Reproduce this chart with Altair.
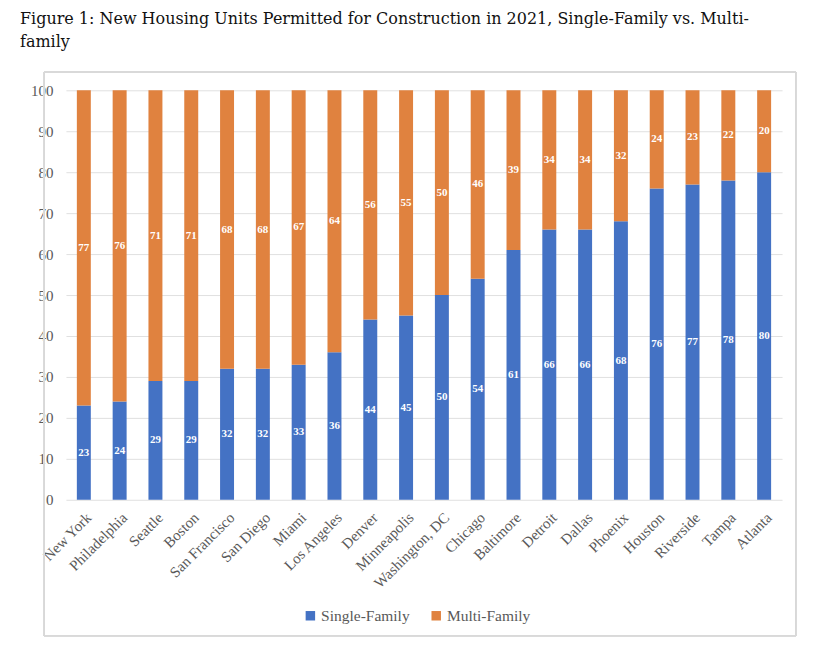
import altair as alt
import pandas as pd

cities = ["New York", "Philadelphia", "Seattle", "Boston", "San Francisco", "San Diego",
          "Miami", "Los Angeles", "Denver", "Minneapolis", "Washington, DC", "Chicago",
          "Baltimore", "Detroit", "Dallas", "Phoenix", "Houston", "Riverside", "Tampa", "Atlanta"]
single = [23, 24, 29, 29, 32, 32, 33, 36, 44, 45, 50, 54, 61, 66, 66, 68, 76, 77, 78, 80]
multi = [77, 76, 71, 71, 68, 68, 67, 64, 56, 55, 50, 46, 39, 34, 34, 32, 24, 23, 22, 20]
series = ["Single-Family", "Multi-Family"]
colors = ["#4472C4", "#E0823F"]

rows = []
for c, s, m in zip(cities, single, multi):
    rows.append({"city": c, "type": series[0], "value": s, "ord": 0, "mid": s / 2})
    rows.append({"city": c, "type": series[1], "value": m, "ord": 1, "mid": s + m / 2})
df = pd.DataFrame(rows)

serif = "Liberation Serif"

x_enc = alt.X("city:N", sort=cities, title=None,
              scale=alt.Scale(paddingInner=0.61),
              axis=alt.Axis(labelAngle=-45, labelFont=serif, labelFontSize=15,
                            labelColor="#595959", ticks=False, domain=False,
                            labelPadding=10, grid=False))

bars = alt.Chart(df).mark_bar().encode(
    x=x_enc,
    y=alt.Y("value:Q", stack="zero", title=None,
            scale=alt.Scale(domain=[0, 100], nice=False),
            axis=alt.Axis(values=list(range(0, 101, 10)), labelFont=serif, labelFontSize=15,
                          labelColor="#595959", ticks=False, domain=False, labelPadding=13,
                          gridColor="#E0E0E0", gridWidth=1)),
    color=alt.Color("type:N", sort=series,
                    scale=alt.Scale(domain=series, range=colors),
                    legend=alt.Legend(title=None, orient="none", direction="horizontal",
                                      legendX=237, legendY=518, symbolType="square",
                                      symbolSize=90, symbolStrokeWidth=0,
                                      labelFont=serif, labelFontSize=15.5,
                                      labelColor="#595959", columnPadding=18,
                                      labelOffset=3)),
    order=alt.Order("ord:Q"),
)

labels = alt.Chart(df).mark_text(font=serif, fontSize=11, fontWeight="bold",
                                 color="white", baseline="middle").encode(
    x=alt.X("city:N", sort=cities),
    y=alt.Y("mid:Q"),
    text=alt.Text("value:Q"),
)

frame = alt.Chart(df).mark_rect(fill=None, stroke="#D9D9D9", strokeWidth=1).encode(
    x=alt.value(-22), x2=alt.value(731), y=alt.value(-18), y2=alt.value(546)
)

chart = alt.layer(frame, bars, labels).properties(
    width=717, height=410,
    autosize=alt.AutoSizeParams(type="none"),
    padding={"left": 58, "top": 82, "right": 30, "bottom": 145},
    title=alt.TitleParams(
        ["Figure 1: New Housing Units Permitted for Construction in 2021, Single-Family vs. Multi-",
         "family"],
        anchor="start", frame="group", font="DejaVu Serif", fontSize=16, fontWeight="normal",
        color="#111111", dx=-46, offset=22, lineHeight=23, baseline="top"),
).configure_view(stroke=None)

chart.save("out.html", embed_options={"renderer": "svg", "actions": False})
